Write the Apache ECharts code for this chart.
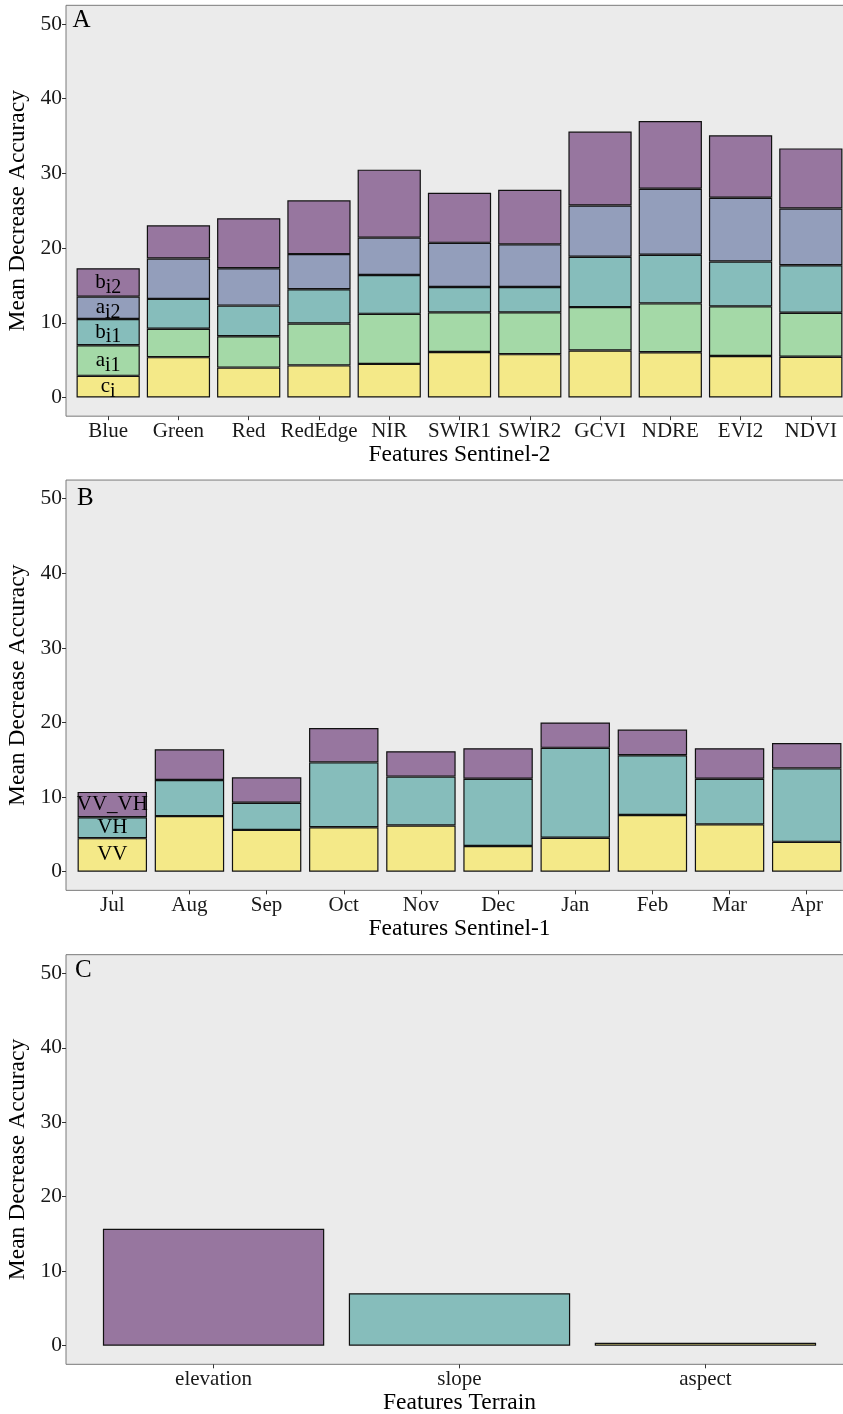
<!DOCTYPE html>
<html>
<head>
<meta charset="utf-8">
<script src="https://cdn.jsdelivr.net/npm/echarts@6/dist/echarts.min.js"></script>
<style>
html,body{margin:0;padding:0;background:#fff;}
#chart{width:843px;height:1414px;}
</style>
</head>
<body>
<div id="chart"></div>
<script>
// ---------- DATA ----------
const catsA = ['Blue','Green','Red','RedEdge','NIR','SWIR1','SWIR2','GCVI','NDRE','EVI2','NDVI'];
const ci  = [2.9, 5.4, 4.0, 4.3, 4.5, 6.1, 5.8, 6.3, 6.05, 5.55, 5.45];
const ai1 = [4.1, 3.8, 4.2, 5.6, 6.7, 5.3, 5.6, 5.8, 6.55, 6.65, 5.9];
const bi1 = [3.5, 4.0, 4.1, 4.6, 5.2, 3.4, 3.4, 6.75, 6.5, 6.0, 6.35];
const ai2 = [3.0, 5.4, 5.0, 4.7, 5.0, 5.9, 5.7, 6.85, 8.85, 8.55, 7.6];
const bi2 = [3.8, 4.45, 6.7, 7.2, 9.1, 6.7, 7.3, 9.9, 9.05, 8.35, 8.05];

const catsB = ['Jul','Aug','Sep','Oct','Nov','Dec','Jan','Feb','Mar','Apr'];
const VV    = [4.5, 7.45, 5.6, 5.95, 6.2, 3.45, 4.55, 7.6, 6.35, 4.0];
const VH    = [2.8, 4.85, 3.65, 8.7, 6.55, 9.0, 12.05, 8.0, 6.1, 9.85];
const VV_VH = [3.4, 4.1, 3.4, 4.6, 3.4, 4.1, 3.4, 3.45, 4.1, 3.4];

const catsC = ['elevation','slope','aspect'];
const terrain = [15.7, 7.05, 0.4];

const yTicks = [0, 10, 20, 30, 40, 50];
const yTitle = 'Mean Decrease Accuracy';
const xTitles = ['Features Sentinel-2', 'Features Sentinel-1', 'Features Terrain'];
const panelLetters = ['A', 'B', 'C'];

// ---------- STYLE ----------
const FONT = 'Liberation Serif';
const YELLOW = '#F4E988', LGREEN = '#A4D9A7', TEAL = '#86BDBB', BLUEG = '#939EBB', PURPLE = '#97769F';
const PANEL_LEFT = 66, PANEL_W = 787;
// pixel positions of y=50 and y=0 for each panel
const panels = [
  {y50: 24.0, y0: 397.5, cats: catsA},
  {y50: 498.7, y0: 871.7, cats: catsB},
  {y50: 973.3, y0: 1345.7, cats: catsC}
];
const letterPos = [{x: 72.5, y: 20.5}, {x: 77, y: 498.7}, {x: 75, y: 970}];

const grids = [], xAxes = [], yAxes = [], graphics = [];
panels.forEach((p) => {
  p.pxu = (p.y0 - p.y50) / 50;
  p.n = p.cats.length;
  p.u = PANEL_W / (p.n + 0.2);
  p.top = p.y50 - 2.5 * p.pxu;
  p.h = 55 * p.pxu;
  grids.push({
    left: PANEL_LEFT, top: p.top, width: PANEL_W, height: p.h,
    show: true, backgroundColor: '#EBEBEB', borderColor: '#7a7a7a', borderWidth: 1,
    outerBoundsMode: 'none', containLabel: false
  });
});
panels.forEach((p, k) => {
  const gi = grids.length;
  grids.push({
    left: PANEL_LEFT + 0.1 * p.u, top: p.top, width: p.n * p.u, height: p.h,
    show: false, outerBoundsMode: 'none', containLabel: false
  });
  xAxes.push({
    type: 'category', gridIndex: gi, data: p.cats,
    axisLine: {show: false, onZero: false},
    axisTick: {show: true, alignWithLabel: true, length: 4, lineStyle: {color: '#333'}},
    axisLabel: {interval: 0, fontFamily: FONT, fontSize: 21, color: '#1a1a1a', margin: 5},
    name: xTitles[k], nameLocation: 'middle', nameGap: 26,
    nameTextStyle: {fontFamily: FONT, fontSize: 23.5, color: '#000'}
  });
  yAxes.push({
    type: 'value', gridIndex: gi, min: -2.5, max: 52.5,
    offset: 0.1 * p.u,
    axisLine: {show: false, onZero: false}, splitLine: {show: false},
    axisTick: {show: true, length: 4, customValues: yTicks, lineStyle: {color: '#333'}},
    axisLabel: {customValues: yTicks, fontFamily: FONT, fontSize: 21.5, color: '#1a1a1a', margin: 4},
    name: yTitle, nameLocation: 'middle', nameGap: 29,
    nameTextStyle: {fontFamily: FONT, fontSize: 23.5, color: '#000'}
  });
  graphics.push({
    type: 'text', x: letterPos[k].x, y: letterPos[k].y,
    style: {text: panelLetters[k], fontFamily: FONT, fontSize: 25, fill: '#000', verticalAlign: 'middle'}
  });
});

const border = {borderColor: '#111', borderWidth: 1.2};
const rich = {
  m: {fontFamily: FONT, fontSize: 21, color: '#000', lineHeight: 30},
  s: {fontFamily: FONT, fontSize: 20, color: '#000', lineHeight: 20, verticalAlign: 'bottom'}
};
function withFirstLabel(vals, text) {
  return vals.map((v, i) => i === 0 ? {
    value: v,
    label: {show: true, position: 'inside', formatter: text, rich: rich, fontFamily: FONT, fontSize: 21, color: '#000'}
  } : v);
}
function stackSeries(name, vals, color, axis, stack, labelText) {
  return {
    type: 'bar', name: name, stack: stack, xAxisIndex: axis, yAxisIndex: axis,
    barWidth: '90%', itemStyle: Object.assign({color: color}, border),
    data: withFirstLabel(vals, labelText), emphasis: {disabled: true}
  };
}

const series = [
  stackSeries('ci', ci, YELLOW, 0, 'A', '{m|c}{s|i}'),
  stackSeries('ai1', ai1, LGREEN, 0, 'A', '{m|a}{s|i1}'),
  stackSeries('bi1', bi1, TEAL, 0, 'A', '{m|b}{s|i1}'),
  stackSeries('ai2', ai2, BLUEG, 0, 'A', '{m|a}{s|i2}'),
  stackSeries('bi2', bi2, PURPLE, 0, 'A', '{m|b}{s|i2}'),
  stackSeries('VV', VV, YELLOW, 1, 'B', 'VV'),
  stackSeries('VH', VH, TEAL, 1, 'B', 'VH'),
  stackSeries('VV_VH', VV_VH, PURPLE, 1, 'B', 'VV_VH'),
  {
    type: 'bar', name: 'terrain', xAxisIndex: 2, yAxisIndex: 2, barWidth: '90%',
    itemStyle: border, emphasis: {disabled: true},
    data: terrain.map((v, i) => ({value: v, itemStyle: {color: [PURPLE, TEAL, YELLOW][i]}}))
  }
];

const chart = echarts.init(document.getElementById('chart'), null, {renderer: 'canvas'});
chart.setOption({
  animation: false,
  backgroundColor: '#fff',
  grid: grids, xAxis: xAxes, yAxis: yAxes, series: series, graphic: graphics
});
</script>
</body>
</html>
